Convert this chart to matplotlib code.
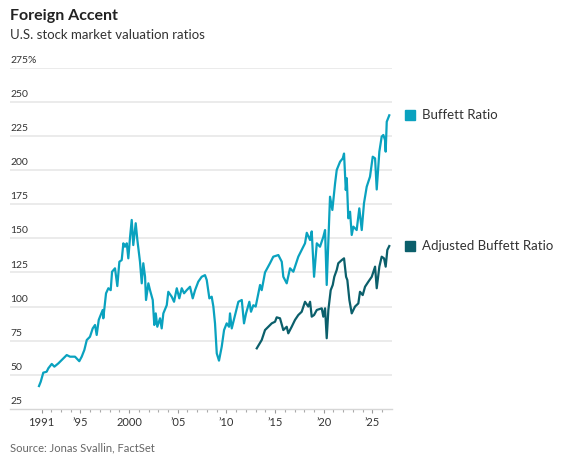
import matplotlib
matplotlib.use("Agg")
import matplotlib.pyplot as plt
import matplotlib.transforms as mtransforms

plt.rcParams['font.family'] = ['Lato', 'DejaVu Sans']

# Buffett Ratio (market cap / GDP, %)
buffett_years = [1990.74, 1990.92, 1991.18, 1991.53, 1991.70, 1992.05, 1992.32, 1992.73, 1993.08, 1993.59,
                 1993.93, 1994.44, 1994.88, 1995.13, 1995.40, 1995.65, 1995.98, 1996.26, 1996.50, 1996.67,
                 1996.88, 1997.01, 1997.29, 1997.35, 1997.63, 1997.87, 1998.11, 1998.25, 1998.55, 1998.79,
                 1999.00, 1999.24, 1999.41, 1999.58, 1999.76, 1999.92, 2000.10, 2000.27, 2000.43, 2000.68,
                 2000.85, 2001.12, 2001.30, 2001.46, 2001.64, 2001.74, 2001.98, 2002.15, 2002.43, 2002.59,
                 2002.74, 2002.90, 2003.18, 2003.35, 2003.52, 2003.87, 2004.03, 2004.38, 2004.62, 2004.90,
                 2005.16, 2005.41, 2005.65, 2005.92, 2006.26, 2006.54, 2006.78, 2007.11, 2007.46, 2007.80,
                 2007.98, 2008.25, 2008.49, 2008.66, 2008.83, 2009.01, 2009.24, 2009.52, 2009.76, 2010.03,
                 2010.27, 2010.37, 2010.55, 2010.89, 2011.23, 2011.58, 2011.81, 2012.02, 2012.36, 2012.53,
                 2012.77, 2013.01, 2013.18, 2013.46, 2013.63, 2013.97, 2014.48, 2014.82, 2015.34, 2015.69,
                 2015.85, 2016.20, 2016.54, 2016.88, 2017.39, 2017.74, 2018.08, 2018.26, 2018.60, 2018.77,
                 2019.01, 2019.29, 2019.62, 2019.96, 2020.14, 2020.31, 2020.65, 2020.89, 2021.17, 2021.34,
                 2021.68, 2021.96, 2022.09, 2022.27, 2022.37, 2022.53, 2022.71, 2022.88, 2023.05, 2023.39,
                 2023.66, 2023.91, 2024.14, 2024.42, 2024.76, 2025.04, 2025.28, 2025.45, 2025.72, 2025.96,
                 2026.13, 2026.30, 2026.37, 2026.48, 2026.74]
buffett_vals = [41.8, 45.0, 51.6, 52.3, 54.8, 58.0, 56.0, 58.4, 60.9, 64.5,
                63.3, 63.3, 60.0, 63.3, 68.2, 75.5, 77.9, 84.0, 86.5, 79.2,
                90.2, 92.6, 97.5, 91.4, 109.7, 113.4, 112.0, 125.5, 128.0, 115.0,
                132.8, 134.0, 146.3, 143.8, 146.3, 135.3, 151.0, 163.4, 145.0, 161.0,
                148.7, 132.8, 117.0, 131.7, 121.8, 104.8, 117.0, 112.0, 104.8, 86.5,
                95.0, 85.2, 91.4, 84.0, 95.0, 101.0, 110.8, 107.2, 103.5, 113.4,
                106.0, 113.4, 109.7, 112.0, 114.5, 106.0, 112.0, 118.2, 121.8, 123.0,
                119.4, 106.0, 107.2, 100.0, 87.7, 65.7, 60.4, 70.6, 82.8, 87.7,
                85.2, 95.0, 84.0, 93.8, 103.5, 104.8, 87.7, 95.0, 103.5, 96.2,
                101.0, 100.0, 106.0, 115.8, 112.0, 125.0, 131.7, 136.5, 137.7, 132.8,
                121.8, 117.0, 128.0, 125.5, 136.5, 141.4, 146.3, 154.0, 148.7, 155.0,
                121.8, 146.3, 143.8, 151.0, 156.0, 115.8, 180.4, 170.7, 190.2, 200.0,
                206.0, 208.5, 212.0, 185.3, 194.0, 164.6, 169.4, 152.4, 158.5, 156.0,
                171.9, 156.0, 175.6, 187.7, 195.1, 209.7, 208.5, 185.7, 213.4, 224.4,
                225.6, 222.0, 213.4, 235.3, 240.0]

# Adjusted Buffett Ratio
adj_years = [2013.12, 2013.63, 2013.97, 2014.31, 2014.66, 2015.00, 2015.17, 2015.51, 2015.85, 2016.20,
             2016.36, 2016.71, 2017.05, 2017.39, 2017.74, 2018.08, 2018.42, 2018.60, 2018.77, 2019.01,
             2019.29, 2019.80, 2019.96, 2020.14, 2020.31, 2020.48, 2020.72, 2020.93, 2021.09, 2021.34,
             2021.50, 2021.85, 2022.09, 2022.30, 2022.43, 2022.64, 2022.88, 2023.22, 2023.56, 2023.73,
             2024.01, 2024.25, 2024.59, 2024.94, 2025.28, 2025.45, 2025.72, 2025.96, 2026.20, 2026.37,
             2026.54, 2026.74]
adj_vals = [69.4, 75.5, 82.8, 85.2, 87.7, 88.9, 92.1, 91.4, 82.8, 85.2,
            80.4, 85.2, 90.2, 93.8, 96.2, 103.5, 100.0, 103.5, 92.6, 93.8,
            97.5, 98.7, 92.6, 98.7, 76.8, 97.5, 112.0, 115.8, 121.8, 126.8,
            131.7, 134.0, 135.3, 121.8, 119.4, 104.8, 95.0, 100.0, 102.3, 110.8,
            108.4, 114.5, 118.2, 121.8, 129.2, 113.4, 129.2, 136.5, 135.3, 129.2,
            141.4, 144.3]

y_ticks = [25, 50, 75, 100, 125, 150, 175, 200, 225, 250, 275]
x_major = [1991, 1995, 2000, 2005, 2010, 2015, 2020, 2025]
x_labels = ["1991", "\u201995", "2000", "\u201905", "\u201910", "\u201915", "\u201920", "\u201925"]
x_minor = list(range(1991, 2027))

c_buff = "#0aa2bf"
c_adj = "#0b5f6b"

W, H = 566, 462
fig = plt.figure(figsize=(W / 100, H / 100), dpi=100)
ax = fig.add_axes([10 / W, 1 - 409 / H, 382 / W, 341.5 / H])

ax.plot(buffett_years, buffett_vals, color=c_buff, lw=1.6, solid_joinstyle="round")
ax.plot(adj_years, adj_vals, color=c_adj, lw=1.6, solid_joinstyle="round")

ax.set_xlim(1987.76, 2027.02)
ax.set_ylim(25, 275)

for s in ["top", "right", "left"]:
    ax.spines[s].set_visible(False)
ax.spines["bottom"].set_color("#d6d6d6")
ax.spines["bottom"].set_linewidth(1.0)

ax.set_yticks(y_ticks)
ax.set_yticklabels([])
ax.tick_params(axis="y", length=0)
for v in y_ticks[1:]:
    ax.axhline(v, color="#e8e8e8", lw=1.2, zorder=0)

# y labels sit on top of the gridlines at the left edge
lab_tr = mtransforms.offset_copy(ax.get_yaxis_transform(), fig=fig, x=0, y=2, units="points")
for v in y_ticks:
    s = f"{v}%" if v == y_ticks[-1] else str(v)
    ax.text(0.0, v, s, transform=lab_tr, ha="left", va="bottom", fontsize=7.5, color="#333333")

ax.set_xticks(x_major)
ax.set_xticklabels(x_labels, fontsize=8, color="#333333")
ax.set_xticks(x_minor, minor=True)
ax.tick_params(axis="x", which="major", length=3, width=0.8, color="#999999", pad=3)
ax.tick_params(axis="x", which="minor", length=2, width=0.8, color="#aaaaaa")

# end labels
for vals, col, name in [(buffett_vals, c_buff, "Buffett Ratio"),
                        (adj_vals, c_adj, "Adjusted Buffett Ratio")]:
    sq_tr = mtransforms.offset_copy(ax.get_yaxis_transform(), fig=fig, x=13.3, y=0, units="points")
    ax.plot([1.0], [vals[-1]], marker="s", ms=6.5, color=col, transform=sq_tr, clip_on=False)
    tx_tr = mtransforms.offset_copy(ax.get_yaxis_transform(), fig=fig, x=21.6, y=0, units="points")
    ax.text(1.0, vals[-1], name, transform=tx_tr, ha="left", va="center", fontsize=9.5, color="#333333")

fig.text(10 / W, 1 - 16 / H, "Foreign Accent", fontsize=11.5, fontweight="bold", color="#222222", va="center")
fig.text(10 / W, 1 - 35 / H, "U.S. stock market valuation ratios", fontsize=9.5, color="#333333", va="center")
fig.text(10 / W, 1 - 448 / H, "Source: Jonas Svallin, FactSet", fontsize=8, color="#666666", va="center")

fig.savefig("out.png", dpi=100)
